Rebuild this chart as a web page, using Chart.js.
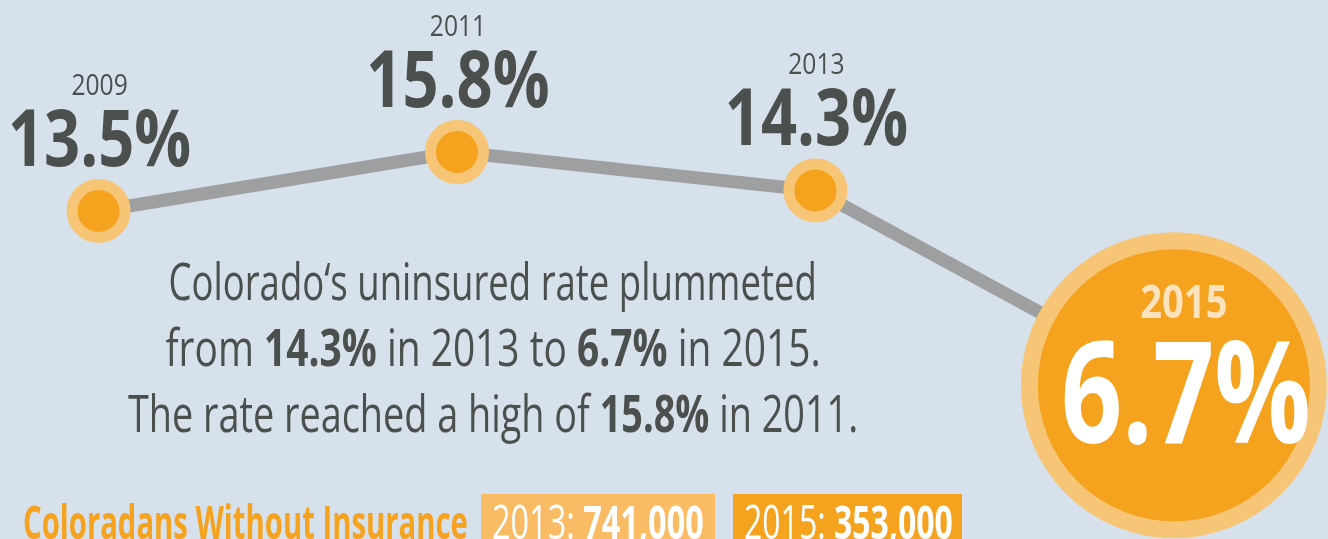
<!DOCTYPE html>
<html>
<head>
<meta charset="utf-8">
<script src="https://cdn.jsdelivr.net/npm/chart.js@4"></script>
<style>
  body { margin: 0; background: #d6e1ec; }
  #wrap { position: relative; width: 1328px; height: 539px; overflow: hidden; font-family: "Open Sans", sans-serif; }
  #para { position: absolute; left: -507px; top: 247px; width: 2000px; color: #4b4f4e; font-size: 52px; line-height: 66px; }
  #para div { text-align: center; white-space: nowrap; height: 66px; }
  #para span { display: inline-block; transform-origin: 50% 50%; }
  .fit { display: inline-block; white-space: nowrap; transform-origin: 0 50%; }
  #title { position: absolute; left: 23px; top: 498px; color: #f5a21f; font-weight: bold; font-size: 47px; line-height: 47px; }
  .box { position: absolute; top: 494px; height: 60px; color: #fff; }
  .box .fit { position: absolute; left: 11px; top: 4px; font-size: 47px; line-height: 47px; }
</style>
</head>
<body>
<div id="wrap">
  <canvas id="chart" width="1328" height="539"></canvas>
  <div id="para"></div>
  <div id="title" class="fit">Coloradans Without Insurance</div>
  <div class="box" id="box1" style="left:481px;width:234px;background:#f9bc65"></div>
  <div class="box" id="box2" style="left:733px;width:229px;background:#f5a21f"></div>
</div>
<script>
const years = [2009, 2011, 2013, 2015];
const rates = [13.5, 15.8, 14.3, 6.7];
const rateLabels = ['13.5%', '15.8%', '14.3%', '6.7%'];
const countYears = ['2013', '2015'];
const counts = ['741,000', '353,000'];

const font = '"Open Sans", sans-serif';
const dark = '#4b4f4e';
const orange = '#f5a21f';
const lightOrange = '#f7c576';

// squeeze an inline element to a given width (the original uses a condensed face)
function fitWidth(el, target) {
  el.style.transform = 'scaleX(' + (target / el.offsetWidth) + ')';
}

const lines = [
  'Colorado\u2018s uninsured rate plummeted',
  'from <b>' + rateLabels[2] + '</b> in ' + years[2] + ' to <b>' + rateLabels[3] + '</b> in ' + years[3] + '.',
  'The rate reached a high of <b>' + rateLabels[1] + '</b> in ' + years[1] + '.'
];
const lineWidths = [648, 655, 730];
const para = document.getElementById('para');
para.innerHTML = lines.map(l => '<div><span>' + l + '</span></div>').join('');
para.querySelectorAll('span').forEach((s, i) => fitWidth(s, lineWidths[i]));

fitWidth(document.getElementById('title'), 445);
['box1', 'box2'].forEach((id, i) => {
  const box = document.getElementById(id);
  box.innerHTML = '<span class="fit">' + countYears[i] + ': <b>' + counts[i] + '</b></span>';
  fitWidth(box.firstChild, i === 0 ? 212 : 209);
});

function squeezed(ctx, text, x, y, k) {
  ctx.fillText(text, x, y, ctx.measureText(text).width * k);
}

const labelPlugin = {
  id: 'pointLabels',
  afterDatasetsDraw(chart) {
    const ctx = chart.ctx;
    const pts = chart.getDatasetMeta(0).data;
    ctx.save();
    ctx.textAlign = 'center';
    ctx.textBaseline = 'alphabetic';
    pts.forEach((p, i) => {
      if (i < pts.length - 1) {
        ctx.fillStyle = dark;
        ctx.font = '30px ' + font;
        squeezed(ctx, String(years[i]), p.x + 1, p.y - 116, 0.82);
        ctx.font = 'bold 79px ' + font;
        squeezed(ctx, rateLabels[i], p.x + 1, p.y - 45, 0.8);
      } else {
        ctx.fillStyle = '#fce2bd';
        ctx.font = 'bold 46px ' + font;
        squeezed(ctx, String(years[i]), p.x + 10, p.y - 67, 0.83);
        ctx.fillStyle = '#fff';
        ctx.font = 'bold 141px ' + font;
        squeezed(ctx, rateLabels[i], p.x + 12, p.y + 58, 0.76);
      }
    });
    ctx.restore();
  }
};

new Chart(document.getElementById('chart'), {
  type: 'line',
  data: {
    datasets: [{
      data: years.map((y, i) => ({ x: y, y: rates[i] })),
      borderColor: '#9d9fa0',
      borderWidth: 13,
      pointRadius: [26.5, 26.5, 26.5, 144.5],
      pointBorderWidth: [11, 11, 11, 17],
      pointBackgroundColor: orange,
      pointBorderColor: lightOrange,
      clip: false
    }]
  },
  options: {
    responsive: false,
    animation: false,
    events: [],
    layout: { padding: 0, autoPadding: false },
    plugins: { legend: { display: false }, tooltip: { enabled: false } },
    scales: {
      x: { type: 'linear', display: false, min: 2008.45, max: 2015.86 },
      y: { type: 'linear', display: false, min: 0.704, max: 21.73 }
    }
  },
  plugins: [labelPlugin]
});
</script>
</body>
</html>
